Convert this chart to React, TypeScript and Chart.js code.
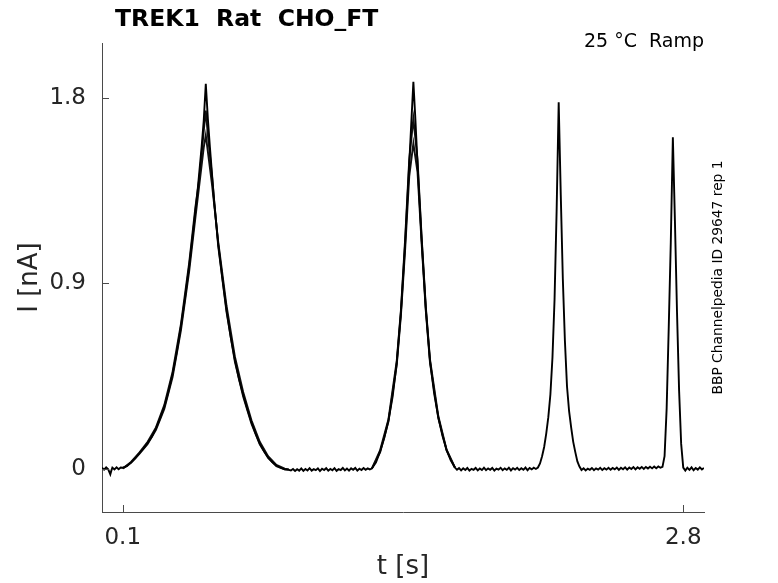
import React, { useEffect, useRef } from 'react';
import { Chart, registerables } from 'chart.js';

Chart.register(...registerables);

type Pt = [number, number];

// time [s], current [nA]

// flat stretch before the first ramp
const preRamp: Pt[] = [
  [0.000, 0.004], [0.010, -0.005], [0.020, 0.006], [0.030, -0.004], [0.040, -0.028],
  [0.045, -0.010], [0.050, 0.005], [0.060, -0.004], [0.070, 0.006], [0.080, -0.003], [0.090, 0.005],
];

// ramp 1 (0.1 - 0.9 s), three overlaid sweeps
const ramp1A: Pt[] = [
  [0.100, 0.004], [0.120, 0.012], [0.140, 0.030], [0.160, 0.050], [0.180, 0.075],
  [0.200, 0.098], [0.220, 0.125], [0.240, 0.155], [0.260, 0.195], [0.280, 0.245],
  [0.300, 0.300], [0.320, 0.375], [0.340, 0.460], [0.360, 0.565], [0.380, 0.690],
  [0.400, 0.830], [0.420, 0.985], [0.440, 1.160], [0.460, 1.345], [0.480, 1.565],
  [0.490, 1.690], [0.500, 1.870], [0.510, 1.700], [0.520, 1.560], [0.540, 1.300],
  [0.560, 1.090], [0.580, 0.925], [0.600, 0.770], [0.620, 0.640], [0.640, 0.530],
  [0.660, 0.435], [0.680, 0.360], [0.700, 0.290], [0.720, 0.225], [0.740, 0.170],
  [0.760, 0.122], [0.780, 0.085], [0.800, 0.055], [0.820, 0.032], [0.840, 0.015],
  [0.860, 0.004], [0.880, -0.004], [0.900, -0.006],
];
const ramp1B: Pt[] = [
  [0.100, 0.000], [0.140, 0.028], [0.180, 0.072], [0.220, 0.120], [0.260, 0.188],
  [0.300, 0.290], [0.340, 0.445], [0.380, 0.670], [0.420, 0.960], [0.450, 1.220],
  [0.470, 1.390], [0.490, 1.560], [0.500, 1.620], [0.510, 1.540], [0.530, 1.380],
  [0.560, 1.100], [0.600, 0.790], [0.640, 0.545], [0.680, 0.372], [0.720, 0.235],
  [0.760, 0.130], [0.800, 0.060], [0.840, 0.018], [0.880, 0.000], [0.900, -0.004],
];
const ramp1C: Pt[] = [
  [0.100, 0.000], [0.140, 0.032], [0.180, 0.078], [0.220, 0.130], [0.260, 0.200],
  [0.300, 0.308], [0.340, 0.470], [0.380, 0.700], [0.420, 1.000], [0.450, 1.270],
  [0.470, 1.420], [0.490, 1.640], [0.500, 1.740], [0.510, 1.620], [0.530, 1.420],
  [0.560, 1.080], [0.600, 0.760], [0.640, 0.520], [0.680, 0.350], [0.720, 0.218],
  [0.760, 0.118], [0.800, 0.052], [0.840, 0.012], [0.880, -0.003], [0.900, -0.005],
];

const gap1: Pt[] = [
  [0.910, -0.009], [0.920, -0.002], [0.930, -0.012], [0.940, -0.003], [0.950, -0.010],
  [0.960, 0.001], [0.970, -0.011], [0.980, -0.002], [0.990, -0.009], [1.000, 0.002],
  [1.010, -0.010], [1.020, -0.003], [1.030, -0.008], [1.040, 0.001], [1.050, -0.012],
  [1.060, -0.001], [1.070, -0.007], [1.080, 0.002], [1.090, -0.010], [1.100, -0.002],
  [1.110, -0.008], [1.120, 0.002], [1.130, -0.011], [1.140, -0.003], [1.150, -0.007],
  [1.160, 0.003], [1.170, -0.009], [1.180, 0.000], [1.190, -0.010], [1.200, 0.001],
  [1.210, -0.006], [1.220, 0.003], [1.230, -0.010], [1.240, -0.001], [1.250, -0.007],
  [1.260, 0.003], [1.270, -0.006], [1.280, 0.001], [1.290, -0.004],
];

// ramp 2 (1.3 - 1.7 s)
const ramp2A: Pt[] = [
  [1.300, 0.000], [1.320, 0.030], [1.340, 0.085], [1.360, 0.150], [1.380, 0.235],
  [1.400, 0.350], [1.420, 0.515], [1.440, 0.760], [1.460, 1.090], [1.480, 1.480],
  [1.490, 1.680], [1.500, 1.880], [1.510, 1.690], [1.520, 1.480], [1.540, 1.110],
  [1.560, 0.775], [1.580, 0.525], [1.600, 0.365], [1.620, 0.250], [1.640, 0.160],
  [1.660, 0.090], [1.680, 0.040], [1.700, 0.005],
];
const ramp2B: Pt[] = [
  [1.300, 0.000], [1.340, 0.080], [1.380, 0.228], [1.420, 0.505], [1.440, 0.745],
  [1.460, 1.060], [1.480, 1.420], [1.500, 1.580], [1.520, 1.440], [1.540, 1.090],
  [1.560, 0.765], [1.580, 0.515], [1.620, 0.245], [1.660, 0.088], [1.700, 0.004],
];
const ramp2C: Pt[] = [
  [1.300, 0.000], [1.340, 0.090], [1.380, 0.240], [1.420, 0.525], [1.440, 0.770],
  [1.460, 1.110], [1.480, 1.500], [1.500, 1.700], [1.520, 1.500], [1.540, 1.120],
  [1.560, 0.785], [1.580, 0.530], [1.620, 0.255], [1.660, 0.092], [1.700, 0.006],
];

const gap2: Pt[] = [
  [1.710, -0.006], [1.720, 0.002], [1.730, -0.009], [1.740, 0.001], [1.750, -0.007],
  [1.760, 0.003], [1.770, -0.010], [1.780, -0.001], [1.790, -0.006], [1.800, 0.003],
  [1.810, -0.009], [1.820, 0.000], [1.830, -0.007], [1.840, 0.004], [1.850, -0.008],
  [1.860, 0.001], [1.870, -0.006], [1.880, 0.003], [1.890, -0.010], [1.900, 0.000],
  [1.910, -0.005], [1.920, 0.004], [1.930, -0.008], [1.940, 0.001], [1.950, -0.006],
  [1.960, 0.004], [1.970, -0.009], [1.980, 0.002], [1.990, -0.005], [2.000, 0.004],
  [2.010, -0.007], [2.020, 0.002], [2.030, -0.006], [2.040, 0.005], [2.050, -0.008],
  [2.060, 0.003], [2.070, -0.004], [2.080, 0.004], [2.090, -0.002],
];

// ramp 3 (2.1 - 2.3 s)
const ramp3: Pt[] = [
  [2.100, 0.005], [2.110, 0.025], [2.120, 0.060], [2.130, 0.105], [2.140, 0.170],
  [2.150, 0.250], [2.160, 0.360], [2.170, 0.540], [2.180, 0.820], [2.190, 1.250],
  [2.200, 1.780], [2.210, 1.330], [2.220, 0.920], [2.230, 0.620], [2.240, 0.400],
  [2.250, 0.280], [2.260, 0.200], [2.270, 0.130], [2.280, 0.080], [2.290, 0.035],
  [2.300, 0.010],
];

const gap3: Pt[] = [
  [2.310, -0.007], [2.320, 0.001], [2.330, -0.009], [2.340, 0.000], [2.350, -0.006],
  [2.360, 0.003], [2.370, -0.008], [2.380, 0.001], [2.390, -0.005], [2.400, 0.004],
  [2.410, -0.007], [2.420, 0.002], [2.430, -0.005], [2.440, 0.004], [2.450, -0.006],
  [2.460, 0.003], [2.470, -0.004], [2.480, 0.005], [2.490, -0.006], [2.500, 0.004],
  [2.510, -0.003], [2.520, 0.006], [2.530, -0.005], [2.540, 0.005], [2.550, -0.002],
  [2.560, 0.007], [2.570, -0.004], [2.580, 0.006], [2.590, -0.001], [2.600, 0.008],
  [2.610, -0.002], [2.620, 0.008], [2.630, 0.000], [2.640, 0.009], [2.650, 0.001],
  [2.660, 0.010], [2.670, 0.002], [2.680, 0.010], [2.690, 0.004],
];

// ramp 4 (2.7 - 2.8 s)
const ramp4: Pt[] = [
  [2.700, 0.008], [2.710, 0.060], [2.720, 0.290], [2.730, 0.680], [2.740, 1.100],
  [2.750, 1.610], [2.760, 1.200], [2.770, 0.760], [2.780, 0.380], [2.790, 0.120],
  [2.800, 0.005],
];

const postRamp: Pt[] = [
  [2.810, -0.010], [2.820, 0.004], [2.830, -0.006], [2.840, 0.006], [2.850, -0.008],
  [2.860, 0.003], [2.870, -0.005], [2.880, 0.006], [2.890, -0.004], [2.900, 0.003],
];

const xTicks = [0.1, 2.8];
const yTicks = [0, 0.9, 1.8];

const titleText = 'TREK1  Rat  CHO_FT';
const conditionText = '25 °C  Ramp';
const idText = 'BBP Channelpedia ID 29647 rep 1';

const FONT = '"DejaVu Sans", "Noto Sans", sans-serif';
const AXIS = '#4a4a4a';
const TEXT = '#262626';

const toXY = (pts: Pt[]) => pts.map(([x, y]) => ({ x, y }));
const gapPoint = (x: number) => ({ x, y: null as unknown as number });

// MATLAB-style inward ticks plus the header / side annotations
const decorations = {
  id: 'decorations',
  afterDraw(chart: Chart) {
    const { ctx, chartArea } = chart;
    const xs = chart.scales.x;
    const ys = chart.scales.y;
    ctx.save();
    ctx.strokeStyle = AXIS;
    ctx.lineWidth = 1;
    ctx.beginPath();
    xs.ticks.forEach((t) => {
      const px = Math.round(xs.getPixelForValue(t.value)) + 0.5;
      ctx.moveTo(px, chartArea.bottom);
      ctx.lineTo(px, chartArea.bottom - 7);
    });
    ys.ticks.forEach((t) => {
      const py = Math.round(ys.getPixelForValue(t.value)) + 0.5;
      ctx.moveTo(chartArea.left, py);
      ctx.lineTo(chartArea.left + 7, py);
    });
    ctx.stroke();

    ctx.fillStyle = '#000';
    ctx.textBaseline = 'alphabetic';
    ctx.textAlign = 'left';
    ctx.font = `bold 23.5px ${FONT}`;
    ctx.fillText(titleText, 115, 26);

    ctx.textAlign = 'right';
    ctx.font = `19px ${FONT}`;
    ctx.fillText(conditionText, chartArea.right, 47);

    ctx.translate(722, (chartArea.top + chartArea.bottom) / 2);
    ctx.rotate(-Math.PI / 2);
    ctx.textAlign = 'center';
    ctx.font = `13.8px ${FONT}`;
    ctx.fillText(idText, 0, 0);
    ctx.restore();
  },
};

const App: React.FC = () => {
  const canvasRef = useRef<HTMLCanvasElement>(null);
  const chartRef = useRef<Chart | null>(null);

  useEffect(() => {
    if (!canvasRef.current) return;
    if (chartRef.current) chartRef.current.destroy();

    const sweepA = [
      ...preRamp, ...ramp1A, ...gap1, ...ramp2A, ...gap2,
      ...ramp3, ...gap3, ...ramp4, ...postRamp,
    ];
    const sweepB = [...toXY(ramp1B), gapPoint(1.1), ...toXY(ramp2B)];
    const sweepC = [...toXY(ramp1C), gapPoint(1.1), ...toXY(ramp2C)];

    const lineStyle = {
      borderColor: '#000',
      borderWidth: 1.9,
      pointRadius: 0,
      tension: 0,
      fill: false,
      spanGaps: false,
    };

    chartRef.current = new Chart(canvasRef.current, {
      type: 'line',
      data: {
        datasets: [
          { label: 'sweep 1', data: toXY(sweepA), ...lineStyle },
          { label: 'sweep 2', data: sweepB, ...lineStyle, borderColor: '#111' },
          { label: 'sweep 3', data: sweepC, ...lineStyle, borderColor: '#111' },
        ],
      },
      options: {
        responsive: false,
        animation: false,
        layout: { padding: { left: 0, top: 43, right: 74, bottom: 0 } },
        plugins: {
          legend: { display: false },
          tooltip: { enabled: false },
          title: { display: false },
        },
        scales: {
          x: {
            type: 'linear',
            min: 0,
            max: 2.9,
            grid: { display: false, drawTicks: false },
            border: { display: true, color: AXIS, width: 1 },
            afterBuildTicks: (scale) => {
              scale.ticks = xTicks.map((v) => ({ value: v }));
            },
            afterFit: (scale) => {
              scale.height = 71;
            },
            ticks: {
              color: TEXT,
              padding: 12,
              maxRotation: 0,
              font: { family: FONT, size: 23 },
              callback: (v) => String(v),
            },
            title: {
              display: true,
              text: 't [s]',
              color: TEXT,
              padding: { top: 0, bottom: 0 },
              font: { family: FONT, size: 26 },
            },
          },
          y: {
            type: 'linear',
            min: -0.211,
            max: 2.068,
            grid: { display: false, drawTicks: false },
            border: { display: true, color: AXIS, width: 1 },
            afterBuildTicks: (scale) => {
              scale.ticks = yTicks.map((v) => ({ value: v }));
            },
            afterFit: (scale) => {
              scale.width = 102;
            },
            ticks: {
              color: TEXT,
              padding: 16,
              font: { family: FONT, size: 23 },
              callback: (v) => String(v),
            },
            title: {
              display: true,
              text: 'I [nA]',
              color: TEXT,
              padding: { top: 15, bottom: 0 },
              font: { family: FONT, size: 26 },
            },
          },
        },
      },
      plugins: [decorations],
    });

    return () => {
      if (chartRef.current) {
        chartRef.current.destroy();
        chartRef.current = null;
      }
    };
  }, []);

  return (
    <div style={{ position: 'fixed', left: 0, top: 0, width: 778, height: 583, background: '#fff' }}>
      <canvas ref={canvasRef} width={778} height={583} style={{ display: 'block' }} />
    </div>
  );
};

export default App;
